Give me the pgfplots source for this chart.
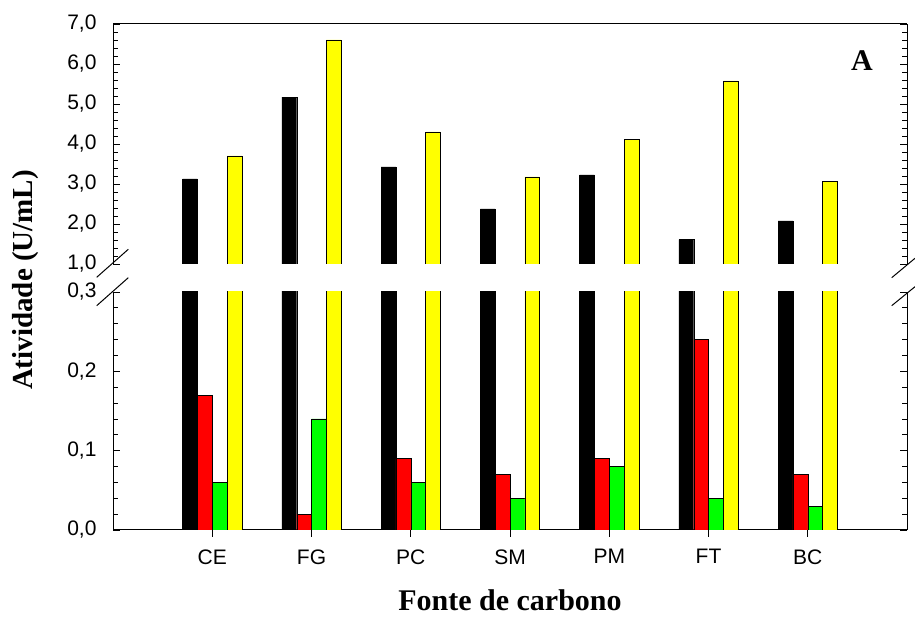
\documentclass[border=0pt]{standalone}
\usepackage{pgfplots}
\pgfplotsset{compat=1.18}
\usepackage{fontspec}
\setmainfont{Liberation Serif}
\newfontfamily\arial{Liberation Sans}
\definecolor{myred}{RGB}{255,0,0}
\definecolor{mygreen}{RGB}{0,255,0}
\definecolor{myyellow}{RGB}{255,255,0}
\pgfplotsset{
  common/.style={
    scale only axis,
    width=794pt,
    xmin=0, xmax=8,
    axis y line*=box,
    ybar=0pt,
    bar width=14.8pt,
    ytick align=inside,
    major tick length=7pt,
    minor tick length=5pt,
    tick style={black, line width=0.8pt},
    axis line style={black, line width=1pt},
    ticklabel style={font=\arial\fontsize{21}{25}\selectfont},
    yticklabel style={xshift=-13pt},
    clip=true,
  },
}
\begin{document}
\begin{tikzpicture}[x=1pt,y=1pt]
\path[use as bounding box] (0,0) rectangle (915,617);
% lower panel
\begin{axis}[common,
  at={(113pt,87pt)}, anchor=south west,
  height=238pt,
  ymin=0, ymax=0.3,
  axis x line*=bottom,
  xtick={1,2,3,4,5,6,7},
  xticklabels={CE,FG,PC,SM,PM,FT,BC},
  xtick align=outside,
  xticklabel style={yshift=-9pt},
  ytick={0,0.1,0.2,0.3},
  yticklabels={{0,0},{0,1},{0,2},{0,3}},
  minor y tick num=4,
]
\addplot[fill=black, draw=black, bar shift=-22.2pt] coordinates {(1,3.13) (2,5.17) (3,3.43) (4,2.38) (5,3.23) (6,1.61) (7,2.08)};
\addplot[fill=myred, draw=black, bar shift=-7.4pt] coordinates {(1,0.17) (2,0.02) (3,0.09) (4,0.07) (5,0.09) (6,0.24) (7,0.07)};
\addplot[fill=mygreen, draw=black, bar shift=7.4pt] coordinates {(1,0.06) (2,0.14) (3,0.06) (4,0.04) (5,0.08) (6,0.04) (7,0.03)};
\addplot[fill=myyellow, draw=black, bar shift=22.2pt] coordinates {(1,3.70) (2,6.60) (3,4.30) (4,3.18) (5,4.12) (6,5.58) (7,3.06)};
\end{axis}
% upper panel
\begin{axis}[common,
  at={(113pt,353pt)}, anchor=south west,
  height=240pt,
  ymin=1, ymax=7,
  axis x line*=top,
  xtick=\empty,
  ytick={1,2,3,4,5,6,7},
  yticklabels={{1,0},{2,0},{3,0},{4,0},{5,0},{6,0},{7,0}},
  minor y tick num=4,
]
\addplot[fill=black, draw=black, bar shift=-22.2pt] coordinates {(1,3.13) (2,5.17) (3,3.43) (4,2.38) (5,3.23) (6,1.61) (7,2.08)};
\addplot[fill=myyellow, draw=black, bar shift=22.2pt] coordinates {(1,3.70) (2,6.60) (3,4.30) (4,3.18) (5,4.12) (6,5.58) (7,3.06)};
\end{axis}
% break marks
\draw[line width=1pt] (96.7,339.7) -- (128.3,367.7);
\draw[line width=1pt] (96.7,311.3) -- (128.3,339.3);
\draw[line width=1pt] (891.7,339.3) -- (915,358.7);
\draw[line width=1pt] (891.7,311.3) -- (915,330.3);
% labels
\node[font=\bfseries\fontsize{30}{34}\selectfont] at (510,17) {Fonte de carbono};
\node[font=\bfseries\fontsize{29}{34}\selectfont, rotate=90] at (26,337) {Atividade (U/mL)};
\node[font=\bfseries\fontsize{30}{34}\selectfont] at (862,556) {A};
\end{tikzpicture}
\end{document}
